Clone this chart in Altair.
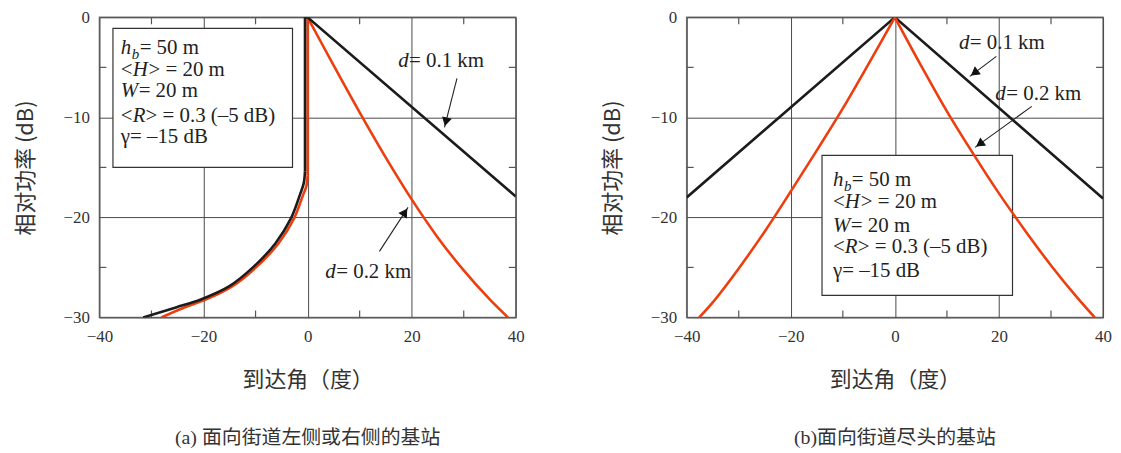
import math
import altair as alt
import pandas as pd

# ---------------- data ----------------
X_LABELS = [-40, -20, 0, 20, 40]
Y_LABELS = [0, -10, -20, -30]
X_MINOR = [-30, -10, 10, 30]
Y_MINOR = [-5, -15, -25]

# panel (a): base station facing left/right side of street
# d = 0.1 km: straight part, then curved tail
a_d01_lin_x = [40, 0, -0.5, -0.5]
a_d01_lin_y = [-17.9, 0, 0, -15.4]
a_d01_cur_x = [-0.5, -0.75, -1.45, -3.2, -6.2, -10.3, -15.1, -20.5, -25.3, -31.6]
a_d01_cur_y = [-15.4, -16.6, -17.7, -20.1, -22.6, -24.9, -26.9, -28.2, -29.0, -30.0]
# d = 0.2 km
a_d02_rgt_x = [0, 5, 10, 15, 20, 25, 30, 35, 38.5]
a_d02_rgt_y = [0, -4.8, -9.5, -14.0, -18.2, -22.0, -25.3, -28.2, -30.0]
a_d02_lin_x = [0, 0]
a_d02_lin_y = [0, -15.8]
a_d02_cur_x = [0, -0.25, -0.9, -2.6, -5.6, -9.7, -14.5, -19.5, -23.7, -28.1]
a_d02_cur_y = [-15.8, -16.9, -17.8, -20.1, -22.6, -24.9, -26.9, -28.2, -29.0, -30.0]

# panel (b): base station facing the end of street
b_d01_x = [-40, 0, 40]
b_d01_y = [-18.0, 0, -18.1]
b_d02_lft_x = [0, -5, -10, -15, -20, -25, -30, -35, -37.6]
b_d02_lft_y = [0, -4.6, -9.1, -13.3, -17.4, -21.4, -25.1, -28.5, -30.0]
b_d02_rgt_x = [0, 5, 10, 15, 20, 25, 30, 35, 38.4]
b_d02_rgt_y = [0, -4.8, -9.4, -13.6, -17.6, -21.3, -24.8, -28.0, -30.0]

PARAM_LINES = [
    [("h", True), ("b", True), ("= 50 m", False)],
    [("<", False), ("H", True), ("> = 20 m", False)],
    [("W", True), ("= 20 m", False)],
    [("<", False), ("R", True), ("> = 0.3 (–5 dB)", False)],
    [("γ= –15 dB", False)],
]
D_LABELS = ["= 0.1 km", "= 0.2 km"]
CAPTIONS = ["(a) 面向街道左侧或右侧的基站", "(b)面向街道尽头的基站"]
X_TITLE = "到达角（度）"
Y_TITLE = "相对功率 (dB)"

# annotation anchors (data units)
a_box = (-37.4, -2.9, -1.1, -15.0)
a_text_x = -35.9
a_text_y = [-3.1, -5.3, -7.4, -9.9, -12.0]
a_dlab = [(17.4, -4.4), (3.4, -25.5)]
a_arrows = [(28.7, -6.1, 26.3, -11.0), (13.8, -23.4, 19.3, -19.0)]

b_box = (-14.0, 22.6, -13.8, -27.8)
b_text_x = -11.9
b_text_y = [-16.3, -18.5, -20.9, -23.0, -25.4]
b_dlab = [(12.3, -2.6), (19.3, -7.7)]
b_arrows = [(19.5, -3.9, 14.4, -5.9), (26.3, -8.9, 15.4, -13.0)]

# ---------------- style ----------------
W, H = 419, 302
BLACK = "#1c1c1c"
ORANGE = "#ee3e0e"
SERIF = "Liberation Serif"
CJK = "Noto Sans CJK SC"
TXT = "#222222"
FS = 21

xs = alt.Scale(domain=[-40, 40], nice=False, zero=False)
ys = alt.Scale(domain=[-30, 0], nice=False, zero=False)
common_axis = dict(grid=True, ticks=False, domain=False, labelFlush=False,
                   labelFont=SERIF, labelFontSize=17, labelColor="#333333",
                   titleFont=CJK, titleFontSize=22, titleFontWeight="normal", titleColor="#333333",
                   gridColor="#4a4a4a", gridWidth=1, gridOpacity=1)
AX = alt.Axis(values=X_LABELS, title=X_TITLE, labelPadding=11, titlePadding=25, **common_axis)
AY = alt.Axis(values=Y_LABELS, title=Y_TITLE, labelPadding=10, titlePadding=26, **common_axis)
SX = W / 80.0
SY = H / 30.0


def X(f="x"):
    return alt.X(f"{f}:Q", scale=xs, axis=AX)


def Y(f="y"):
    return alt.Y(f"{f}:Q", scale=ys, axis=AY)


def text_seg(x, y, t, dx=0, dy=0, italic=False, size=FS):
    return alt.Chart(pd.DataFrame({"x": [x], "y": [y], "t": [t]})).mark_text(
        align="left", baseline="middle", font=SERIF, fontSize=size,
        fontStyle="italic" if italic else "normal", dx=dx, dy=dy, color=TXT,
    ).encode(x=X(), y=Y(), text="t:N")


def curve(xv, yv, color, interp):
    df = pd.DataFrame({"x": xv, "y": yv, "i": list(range(len(xv)))})
    return alt.Chart(df).mark_line(strokeWidth=2.6, color=color, interpolate=interp, clip=True).encode(
        x=X(), y=Y(), order="i:Q")


def panel(curves, box, tx, tys, dlabs, arrows, caption):
    boxc = alt.Chart(pd.DataFrame({"x": [box[0]], "x2": [box[1]], "y": [box[2]], "y2": [box[3]]})).mark_rect(
        fill="white", stroke="#333333", strokeWidth=1.2
    ).encode(x=X(), x2="x2:Q", y=Y(), y2="y2:Q")

    xm = pd.DataFrame({"x": X_MINOR})
    ym = pd.DataFrame({"y": Y_MINOR})
    tick_style = dict(color="#555555", strokeWidth=1.2)
    t_top = alt.Chart(xm).mark_rule(**tick_style).encode(x=X(), y=alt.value(0), y2=alt.value(7))
    t_bot = alt.Chart(xm).mark_rule(**tick_style).encode(x=X(), y=alt.value(H - 7), y2=alt.value(H))
    t_left = alt.Chart(ym).mark_rule(**tick_style).encode(y=Y(), x=alt.value(0), x2=alt.value(7))
    t_right = alt.Chart(ym).mark_rule(**tick_style).encode(y=Y(), x=alt.value(W - 7), x2=alt.value(W))

    layers = [boxc, t_top, t_bot, t_left, t_right]
    for xv, yv, col, interp in curves:
        layers.append(curve(xv, yv, col, interp))

    offs = [[0, 11, 19], [0, 12, 28], [0, 18], [0, 12, 25], [0]]
    for line, y, off in zip(PARAM_LINES, tys, offs):
        for (t, it), dx in zip(line, off):
            if t == "b":
                layers.append(text_seg(tx, y, t, dx=dx, dy=6, italic=True, size=15))
            else:
                layers.append(text_seg(tx, y, t, dx=dx, italic=it))

    for (lx, ly), lab in zip(dlabs, D_LABELS):
        layers.append(text_seg(lx, ly, "d", italic=True))
        layers.append(text_seg(lx, ly, lab, dx=11))

    for (x1, y1, x2, y2) in arrows:
        pdx = (x2 - x1) * SX
        pdy = -(y2 - y1) * SY
        L = math.hypot(pdx, pdy)
        ang = math.degrees(math.atan2(pdx, -pdy)) % 360
        back = 6.0 / L
        hx = x2 - (x2 - x1) * back
        hy = y2 - (y2 - y1) * back
        layers.append(alt.Chart(pd.DataFrame({"x": [x1], "y": [y1], "x2": [x2], "y2": [y2]})).mark_rule(
            color="#222222", strokeWidth=1.1).encode(x=X(), y=Y(), x2="x2:Q", y2="y2:Q"))
        layers.append(alt.Chart(pd.DataFrame({"x": [hx], "y": [hy]})).mark_point(
            shape="triangle-up", filled=True, fill="#111111", stroke="#111111", strokeWidth=1,
            size=70, angle=ang, opacity=1).encode(x=X(), y=Y()))

    return alt.layer(*layers).properties(
        width=W, height=H,
        title=alt.TitleParams(caption, orient="bottom", anchor="middle", font=f"{SERIF}, {CJK}",
                              fontSize=20, fontWeight="normal", color="#333333", offset=38),
    )


pa = panel([(a_d02_rgt_x, a_d02_rgt_y, ORANGE, "catmull-rom"),
            (a_d02_lin_x, a_d02_lin_y, ORANGE, "linear"),
            (a_d02_cur_x, a_d02_cur_y, ORANGE, "catmull-rom"),
            (a_d01_lin_x, a_d01_lin_y, BLACK, "linear"),
            (a_d01_cur_x, a_d01_cur_y, BLACK, "catmull-rom")],
           a_box, a_text_x, a_text_y, a_dlab, a_arrows, CAPTIONS[0])
pb = panel([(b_d01_x, b_d01_y, BLACK, "linear"),
            (b_d02_lft_x, b_d02_lft_y, ORANGE, "catmull-rom"),
            (b_d02_rgt_x, b_d02_rgt_y, ORANGE, "catmull-rom")],
           b_box, b_text_x, b_text_y, b_dlab, b_arrows, CAPTIONS[1])

chart = alt.hconcat(pa, pb, spacing=75).properties(
    padding={"left": 5, "top": -2, "right": 0, "bottom": 0}
).configure_view(stroke="#777777", strokeWidth=1.5)

chart.save("out.html", embed_options={"renderer": "svg", "actions": False})
